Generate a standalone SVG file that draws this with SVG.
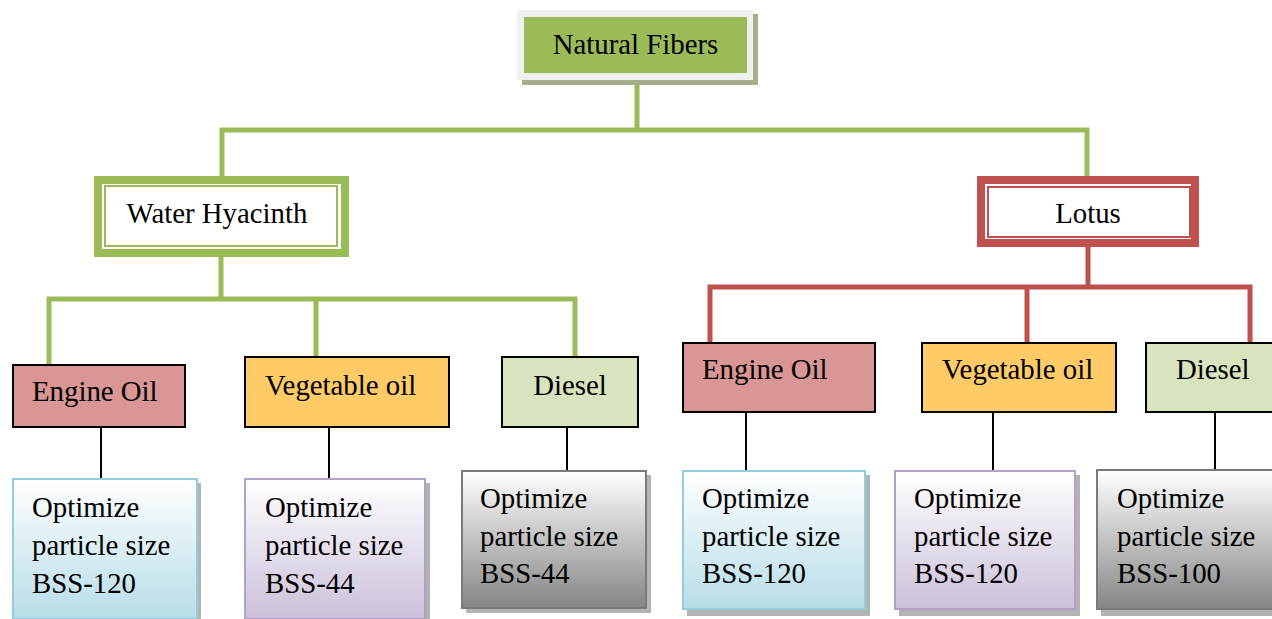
<svg xmlns="http://www.w3.org/2000/svg" width="1272" height="619" viewBox="0 0 1272 619">
  <defs>
    <linearGradient id="gBlue" x1="0" y1="0" x2="0" y2="1">
      <stop offset="0" stop-color="#ffffff"/>
      <stop offset="1" stop-color="#b7dde8"/>
    </linearGradient>
    <linearGradient id="gPurple" x1="0" y1="0" x2="0" y2="1">
      <stop offset="0" stop-color="#ffffff"/>
      <stop offset="1" stop-color="#cbc0da"/>
    </linearGradient>
    <linearGradient id="gGray" x1="0" y1="0" x2="0" y2="1">
      <stop offset="0" stop-color="#ffffff"/>
      <stop offset="1" stop-color="#858585"/>
    </linearGradient>
  </defs>
  <style>
    text { font-family: "Liberation Serif", "Times New Roman", serif; font-size: 28.8px; fill: #000000; }
    .g { stroke: #9bbb59; fill: none; stroke-width: 5; }
    .r { stroke: #c0504d; fill: none; stroke-width: 5; }
    .k { stroke: #000000; fill: none; stroke-width: 2; }
    .box { stroke: #000000; stroke-width: 2; }
    .eng { fill: #d99694; }
    .veg { fill: #fecb66; }
    .die { fill: #d7e4bd; }
    .shadow { fill: #9a9a9a; opacity: 0.75; }
    .blue { fill: url(#gBlue); stroke: #92cddc; stroke-width: 2; }
    .purple { fill: url(#gPurple); stroke: #b2a2c7; stroke-width: 2; }
    .gray { fill: url(#gGray); stroke: #7a7a7a; stroke-width: 2; }
  </style>

  <g id="connectors">
    <line class="g" x1="637" y1="80" x2="637" y2="130"/>
    <polyline class="g" points="222,178 222,130 1087,130 1087,178"/>
    <line class="g" x1="221" y1="256" x2="221" y2="299"/>
    <polyline class="g" points="49,364 49,299 575,299 575,357"/>
    <line class="g" x1="316" y1="299" x2="316" y2="357"/>
    <line class="r" x1="1088" y1="246" x2="1088" y2="287"/>
    <polyline class="r" points="710,343 710,287 1250,287 1250,343"/>
    <line class="r" x1="1027" y1="287" x2="1027" y2="343"/>
    <line class="k" x1="101" y1="428" x2="101" y2="479"/>
    <line class="k" x1="329" y1="427" x2="329" y2="479"/>
    <line class="k" x1="567" y1="427" x2="567" y2="470"/>
    <line class="k" x1="746" y1="412" x2="746" y2="471"/>
    <line class="k" x1="993" y1="412" x2="993" y2="471"/>
    <line class="k" x1="1215" y1="412" x2="1215" y2="470"/>
  </g>

  <g id="natural-fibers">
    <rect x="522" y="14" width="236" height="71" fill="#a7ae8c"/>
    <rect x="517" y="10" width="236" height="70" fill="#f0f0f0"/>
    <rect x="524" y="17" width="223" height="56" fill="#9bbb59"/>
    <text x="635.5" y="54" text-anchor="middle">Natural Fibers</text>
  </g>

  <g id="water-hyacinth">
    <rect x="98" y="180" width="247" height="73" fill="#ffffff" stroke="#9bbb59" stroke-width="8"/>
    <rect x="105" y="186" width="232" height="60" fill="none" stroke="#9bbb59" stroke-width="2"/>
    <text x="217" y="223" text-anchor="middle">Water Hyacinth</text>
  </g>

  <g id="lotus">
    <rect x="981" y="180" width="214" height="63" fill="#ffffff" stroke="#c0504d" stroke-width="8"/>
    <rect x="988" y="187" width="202" height="50" fill="none" stroke="#c0504d" stroke-width="2"/>
    <text x="1088" y="223" text-anchor="middle">Lotus</text>
  </g>

  <g id="wh-engine-oil">
    <rect class="box eng" x="13" y="365" width="172" height="62"/>
    <text x="32" y="401">Engine Oil</text>
  </g>
  <g id="wh-vegetable-oil">
    <rect class="box veg" x="245" y="357" width="204" height="70"/>
    <text x="265" y="395">Vegetable oil</text>
  </g>
  <g id="wh-diesel">
    <rect class="box die" x="502" y="357" width="136" height="70"/>
    <text x="570" y="395" text-anchor="middle">Diesel</text>
  </g>

  <g id="lo-engine-oil">
    <rect class="box eng" x="683" y="343" width="192" height="69"/>
    <text x="702" y="379">Engine Oil</text>
  </g>
  <g id="lo-vegetable-oil">
    <rect class="box veg" x="922" y="343" width="194" height="69"/>
    <text x="942" y="379">Vegetable oil</text>
  </g>
  <g id="lo-diesel">
    <rect class="box die" x="1146" y="343" width="137" height="69"/>
    <text x="1176" y="379">Diesel</text>
  </g>

  <g id="wh-engine-result">
    <rect class="shadow" x="16" y="483" width="185" height="140"/>
    <rect class="blue" x="13" y="479" width="184" height="140"/>
    <text x="32" y="517">Optimize</text>
    <text x="32" y="555">particle size</text>
    <text x="32" y="593">BSS-120</text>
  </g>
  <g id="wh-vegetable-result">
    <rect class="shadow" x="249" y="483" width="181" height="140"/>
    <rect class="purple" x="245" y="479" width="180" height="140"/>
    <text x="265" y="517">Optimize</text>
    <text x="265" y="555">particle size</text>
    <text x="265" y="593">BSS-44</text>
  </g>
  <g id="wh-diesel-result">
    <rect class="shadow" x="466" y="475" width="185" height="138"/>
    <rect class="gray" x="462" y="471" width="184" height="137"/>
    <text x="480" y="508">Optimize</text>
    <text x="480" y="546">particle size</text>
    <text x="480" y="583">BSS-44</text>
  </g>

  <g id="lo-engine-result">
    <rect class="shadow" x="687" y="475" width="183" height="141"/>
    <rect class="blue" x="683" y="471" width="182" height="138"/>
    <text x="702" y="508">Optimize</text>
    <text x="702" y="546">particle size</text>
    <text x="702" y="583">BSS-120</text>
  </g>
  <g id="lo-vegetable-result">
    <rect class="shadow" x="899" y="475" width="181" height="141"/>
    <rect class="purple" x="895" y="471" width="180" height="138"/>
    <text x="914" y="508">Optimize</text>
    <text x="914" y="546">particle size</text>
    <text x="914" y="583">BSS-120</text>
  </g>
  <g id="lo-diesel-result">
    <rect class="shadow" x="1101" y="474" width="185" height="142"/>
    <rect class="gray" x="1097" y="470" width="184" height="139"/>
    <text x="1117" y="508">Optimize</text>
    <text x="1117" y="546">particle size</text>
    <text x="1117" y="583">BSS-100</text>
  </g>
</svg>
